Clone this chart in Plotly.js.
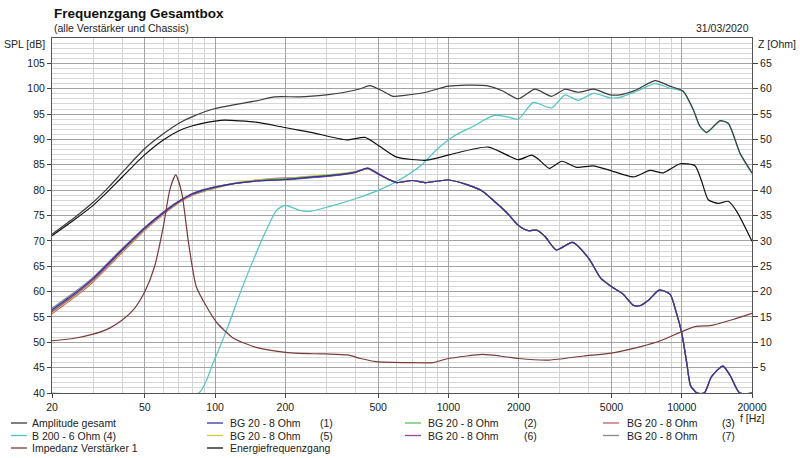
<!DOCTYPE html>
<html>
<head>
<meta charset="utf-8">
<script src="https://cdn.plot.ly/plotly-3.0.1.min.js"></script>
<style>html,body{margin:0;padding:0;background:#fff;}#chart{width:800px;height:458px;}</style>
</head>
<body>
<div id="chart"></div>
<script>
// ---------- data ----------
const xTicks = [20, 50, 100, 200, 500, 1000, 2000, 5000, 10000, 20000];
const xMinor = [30, 40, 60, 70, 80, 90, 300, 400, 600, 700, 800, 900, 3000, 4000, 6000, 7000, 8000, 9000];
const splTicks = [40, 45, 50, 55, 60, 65, 70, 75, 80, 85, 90, 95, 100, 105];
const zTicks = [5, 10, 15, 20, 25, 30, 35, 40, 45, 50, 55, 60, 65];

// Amplitude gesamt
const ampFreq = [20, 25, 30, 35, 40, 50, 60, 70, 80, 100, 120, 150, 180, 230, 300, 350, 420, 460, 520, 580, 650, 800, 1000, 1200, 1460, 1700, 1990, 2350, 2770, 3160, 3600, 4180, 4930, 5440, 6410, 7680, 8900, 10150, 11200, 11970, 12790, 14590, 15830, 17770, 20000];
const ampSPL = [71.3, 74.6, 77.6, 80.6, 83.5, 88.2, 91.1, 93.2, 94.5, 96.1, 96.8, 97.6, 98.4, 98.4, 98.8, 99.2, 100.0, 100.6, 99.6, 98.5, 98.7, 99.3, 100.5, 100.7, 100.6, 99.6, 98.0, 99.9, 98.5, 99.9, 99.3, 99.9, 98.8, 98.8, 99.8, 101.6, 100.5, 99.5, 95.9, 92.6, 91.4, 93.7, 93.2, 87.3, 83.4];

// Energiefrequenzgang
const enFreq = [20, 25, 30, 35, 40, 50, 60, 70, 80, 100, 110, 150, 196, 231, 264, 366, 439, 509, 600, 807, 1015, 1483, 1993, 2274, 2430, 2710, 3058, 3546, 4180, 4926, 6198, 7310, 8337, 9828, 11390, 12180, 12990, 14340, 15830, 17200, 20000];
const enSPL = [71.0, 74.2, 77.0, 79.9, 82.6, 87.0, 89.9, 91.7, 92.7, 93.6, 93.8, 93.4, 92.4, 91.8, 91.3, 89.9, 90.4, 88.6, 86.5, 85.9, 87.0, 88.5, 86.0, 86.9, 86.1, 84.3, 85.7, 84.5, 84.8, 83.9, 82.6, 83.9, 83.4, 85.2, 84.8, 81.7, 78.1, 77.4, 77.8, 75.8, 69.9];

// B 200 - 6 Ohm (4)
const b200Freq = [20, 85, 98, 112, 128, 146, 166, 184, 200, 231, 255, 311, 405, 509, 600, 755, 891, 1049, 1278, 1557, 1777, 1993, 2310, 2771, 3160, 3600, 4180, 4926, 5438, 6410, 7680, 8906, 10150, 11200, 11970, 12790, 14590, 15830, 17770, 20000];
const b200SPL = [40, 40, 45.9, 52.4, 59.7, 66.3, 72.2, 76.1, 77.0, 76.0, 75.8, 76.8, 78.4, 80.1, 81.7, 84.7, 88.0, 90.6, 92.6, 94.7, 94.5, 94.0, 97.3, 96.2, 98.8, 97.7, 99.1, 98.2, 98.3, 99.5, 101.0, 100.1, 99.4, 95.8, 92.5, 91.3, 93.6, 93.1, 87.2, 83.3];

// BG 20 - 8 Ohm (1),(2),(3),(5),(6),(7)
const bgFreq = [20, 25, 30, 40, 50, 60, 70, 80, 100, 120, 150, 200, 250, 300, 350, 400, 450, 500, 550, 600, 700, 800, 900, 1000, 1200, 1400, 1600, 1800, 2000, 2200, 2400, 2600, 2900, 3400, 4000, 4500, 5100, 5600, 6200, 6600, 7200, 8000, 8900, 9500, 10000, 10500, 10900, 11600, 12500, 13400, 15000, 16100, 17700, 20000];
const bg1 = [56.4, 59.6, 62.6, 68.3, 72.6, 75.6, 77.8, 79.3, 80.6, 81.3, 81.8, 82.1, 82.5, 82.8, 83.1, 83.5, 84.3, 83.2, 82.2, 81.5, 81.9, 81.5, 81.8, 82.0, 81.1, 79.8, 77.5, 75.3, 73.0, 72.0, 72.1, 70.8, 68.2, 69.7, 66.5, 62.6, 60.7, 59.5, 57.3, 57.2, 58.3, 60.3, 59.5, 55.7, 51.8, 46.0, 41.5, 40, 40, 43.2, 45.3, 43.5, 40, 40];
const bg2 = [56.2, 59.4, 62.4, 68.1, 72.4, 75.5, 77.7, 79.2, 80.5, 81.3, 81.9, 82.3, 82.6, 82.9, 83.2, 83.6, 84.3, 83.2, 82.2, 81.5, 81.9, 81.5, 81.8, 82.0, 81.1, 79.8, 77.5, 75.3, 73.0, 72.0, 72.1, 70.8, 68.2, 69.7, 66.5, 62.6, 60.7, 59.5, 57.3, 57.2, 58.3, 60.3, 59.5, 55.7, 51.8, 46.0, 41.5, 40, 40, 43.2, 45.3, 43.5, 40, 40];
const bg3 = [55.6, 58.9, 61.9, 67.7, 72.1, 75.2, 77.5, 79.0, 80.4, 81.3, 82.0, 82.4, 82.6, 82.9, 83.2, 83.6, 84.2, 83.2, 82.2, 81.5, 81.9, 81.5, 81.8, 82.0, 81.1, 79.8, 77.5, 75.3, 73.0, 72.0, 72.1, 70.8, 68.2, 69.7, 66.5, 62.6, 60.7, 59.5, 57.3, 57.2, 58.3, 60.3, 59.5, 55.7, 51.8, 46.0, 41.5, 40, 40, 43.2, 45.3, 43.5, 40, 40];
const bg5 = [55.8, 59.1, 62.1, 67.9, 72.2, 75.3, 77.6, 79.1, 80.5, 81.4, 82.0, 82.3, 82.7, 83.0, 83.3, 83.7, 84.2, 83.2, 82.2, 81.5, 81.9, 81.5, 81.8, 82.0, 81.1, 79.8, 77.5, 75.3, 73.0, 72.0, 72.1, 70.8, 68.2, 69.7, 66.5, 62.6, 60.7, 59.5, 57.3, 57.2, 58.3, 60.3, 59.5, 55.7, 51.8, 46.0, 41.5, 40, 40, 43.2, 45.3, 43.5, 40, 40];
const bg6 = [56.0, 59.3, 62.3, 68.1, 72.4, 75.4, 77.7, 79.2, 80.6, 81.3, 81.8, 82.1, 82.4, 82.7, 83.1, 83.6, 84.4, 83.3, 82.2, 81.5, 81.9, 81.5, 81.8, 82.0, 81.1, 79.8, 77.5, 75.3, 73.0, 72.0, 72.1, 70.8, 68.2, 69.7, 66.5, 62.6, 60.7, 59.5, 57.3, 57.2, 58.3, 60.3, 59.5, 55.7, 51.8, 46.0, 41.5, 40, 40, 43.2, 45.3, 43.5, 40, 40];
const bg7 = [56.7, 59.9, 62.8, 68.5, 72.7, 75.7, 77.9, 79.4, 80.7, 81.3, 81.8, 82.0, 82.4, 82.7, 83.0, 83.5, 84.3, 83.2, 82.2, 81.5, 81.9, 81.5, 81.8, 82.0, 81.1, 79.8, 77.5, 75.3, 73.0, 72.0, 72.1, 70.8, 68.2, 69.7, 66.5, 62.6, 60.7, 59.5, 57.3, 57.2, 58.3, 60.3, 59.5, 55.7, 51.8, 46.0, 41.5, 40, 40, 43.2, 45.3, 43.5, 40, 40];

// Impedanz Verstärker 1 (Ohm, right axis)
const impFreq = [20, 25, 30, 35, 40, 45, 50, 55, 60, 64, 67.8, 72, 77, 83, 92, 102, 120, 150, 200, 230, 300, 370, 420, 490, 680, 860, 980, 1200, 1400, 1660, 2000, 2700, 3800, 4900, 6600, 8100, 10000, 11200, 13600, 16600, 20000];
const impZ = [10.3, 10.8, 11.6, 12.7, 14.4, 16.6, 20.0, 24.9, 32.8, 40.1, 43.0, 39.4, 29.5, 21.0, 17.0, 13.8, 10.8, 9.0, 8.0, 7.8, 7.7, 7.5, 6.8, 6.2, 6.0, 6.0, 6.7, 7.3, 7.6, 7.3, 6.8, 6.5, 7.3, 7.8, 9.1, 10.3, 12.1, 13.0, 13.4, 14.5, 15.7];

// ---------- styling ----------
const COL = {
  amp: '#3c3c3c', en: '#111111', b200: '#4fc4c4', imp: '#7a3a3a',
  bg1: '#34349c', bg2: '#5cbf5c', bg3: '#c06060', bg5: '#d4cc3c', bg6: '#a040a8', bg7: '#8a8a8a'
};
const FONT = 'Liberation Sans, Arial, sans-serif';
const LW = 1.2;

function tr(x, y, color, yaxis) {
  return {x: x, y: y, type: 'scatter', mode: 'lines', line: {color: color, width: LW, shape: 'spline', smoothing: 0.6},
    yaxis: yaxis || 'y', hoverinfo: 'skip', showlegend: false};
}

const traces = [
  tr(impFreq, impZ, COL.imp, 'y2'),
  tr(b200Freq, b200SPL, COL.b200),
  tr(bgFreq, bg7, COL.bg7),
  tr(bgFreq, bg3, COL.bg3),
  tr(bgFreq, bg5, COL.bg5),
  tr(bgFreq, bg2, COL.bg2),
  tr(bgFreq, bg6, COL.bg6),
  tr(bgFreq, bg1, COL.bg1),
  tr(enFreq, enSPL, COL.en),
  tr(ampFreq, ampSPL, COL.amp)
];

// ---------- legend (custom grid like the reference) ----------
const legendEntries = [
  ['Amplitude gesamt', '', COL.amp], ['BG 20 - 8 Ohm', '(1)', COL.bg1], ['BG 20 - 8 Ohm', '(2)', COL.bg2], ['BG 20 - 8 Ohm', '(3)', COL.bg3],
  ['B 200 - 6 Ohm (4)', '', COL.b200], ['BG 20 - 8 Ohm', '(5)', COL.bg5], ['BG 20 - 8 Ohm', '(6)', COL.bg6], ['BG 20 - 8 Ohm', '(7)', COL.bg7],
  ['Impedanz Verstärker 1', '', COL.imp], ['Energiefrequenzgang', '', COL.en]
];
const L = 52, R = 752, T = 38, B = 393;
const px = v => (v - L) / (R - L);
const py = v => (B - v) / (B - T);
const colLine = [11, 207, 405, 603], colText = [30, 228, 426, 625], colSuf = [0, 318, 522, 720];
const rowY = [423, 435.5, 448];

const annotations = [];
const shapes = [];
legendEntries.forEach((e, i) => {
  const c = i % 4, r = Math.floor(i / 4);
  shapes.push({type: 'line', xref: 'paper', yref: 'paper', x0: px(colLine[c]), x1: px(colLine[c] + 16), y0: py(rowY[r]), y1: py(rowY[r]),
    line: {color: e[2], width: 1.3}});
  annotations.push({xref: 'paper', yref: 'paper', x: px(colText[c]), y: py(rowY[r]), xanchor: 'left', yanchor: 'middle',
    text: e[0], showarrow: false, font: {family: FONT, size: 10.5, color: '#222'}});
  if (e[1]) annotations.push({xref: 'paper', yref: 'paper', x: px(colSuf[c]), y: py(rowY[r]), xanchor: 'left', yanchor: 'middle',
    text: e[1], showarrow: false, font: {family: FONT, size: 10.5, color: '#222'}});
});

// titles & axis labels
annotations.push(
  {xref: 'paper', yref: 'paper', x: px(52), y: py(13), xanchor: 'left', yanchor: 'middle', showarrow: false,
    text: '<b>Frequenzgang Gesamtbox</b>', font: {family: FONT, size: 13.5, color: '#111'}},
  {xref: 'paper', yref: 'paper', x: px(52), y: py(28), xanchor: 'left', yanchor: 'middle', showarrow: false,
    text: '(alle Verstärker und Chassis)', font: {family: FONT, size: 10.5, color: '#222'}},
  {xref: 'paper', yref: 'paper', x: px(751), y: py(28), xanchor: 'right', yanchor: 'middle', showarrow: false,
    text: '31/03/2020', font: {family: FONT, size: 10.5, color: '#222'}},
  {xref: 'paper', yref: 'paper', x: px(47), y: py(44), xanchor: 'right', yanchor: 'middle', showarrow: false,
    text: 'SPL [dB]', font: {family: FONT, size: 10.5, color: '#222'}},
  {xref: 'paper', yref: 'paper', x: px(756), y: py(44), xanchor: 'left', yanchor: 'middle', showarrow: false,
    text: 'Z [Ohm]', font: {family: FONT, size: 10.5, color: '#222'}},
  {xref: 'paper', yref: 'paper', x: px(738), y: py(418), xanchor: 'left', yanchor: 'middle', showarrow: false,
    text: 'f [Hz]', font: {family: FONT, size: 10.5, color: '#222'}}
);

const layout = {
  width: 800, height: 458,
  margin: {l: L, r: 800 - R, t: T, b: 458 - B, pad: 0},
  paper_bgcolor: '#ffffff', plot_bgcolor: '#ffffff',
  showlegend: false,
  font: {family: FONT, size: 10.5, color: '#222'},
  xaxis: {
    type: 'log', range: [Math.log10(20), Math.log10(20000)],
    tickmode: 'array', tickvals: xTicks, ticktext: xTicks.map(String),
    ticks: 'outside', ticklen: 4, tickcolor: '#444', tickfont: {family: FONT, size: 10.5, color: '#222'},
    showgrid: true, gridcolor: '#a3a3a3', gridwidth: 1,
    minor: {tickmode: 'array', tickvals: xMinor, showgrid: true, gridcolor: '#d2d2d2', gridwidth: 1, ticks: ''},
    showline: true, linecolor: '#555', linewidth: 1, mirror: true, zeroline: false, fixedrange: true
  },
  yaxis: {
    range: [40, 110], tickmode: 'array', tickvals: splTicks, ticktext: splTicks.map(String),
    ticks: 'outside', ticklen: 4, tickcolor: '#444', tickfont: {family: FONT, size: 10.5, color: '#222'},
    showgrid: true, gridcolor: '#a3a3a3', gridwidth: 1,
    minor: {dtick: 1, showgrid: true, gridcolor: '#d6d6d6', gridwidth: 1, ticks: ''},
    showline: true, linecolor: '#555', linewidth: 1, mirror: true, zeroline: false, fixedrange: true
  },
  yaxis2: {
    overlaying: 'y', side: 'right', range: [0, 70], tickmode: 'array', tickvals: zTicks, ticktext: zTicks.map(String),
    ticks: 'outside', ticklen: 5, tickcolor: '#444', tickfont: {family: FONT, size: 10.5, color: '#222'},
    showgrid: false, zeroline: false, showline: false, fixedrange: true
  },
  annotations: annotations,
  shapes: shapes
};

Plotly.newPlot('chart', traces, layout, {staticPlot: true, displayModeBar: false});
</script>
</body>
</html>
